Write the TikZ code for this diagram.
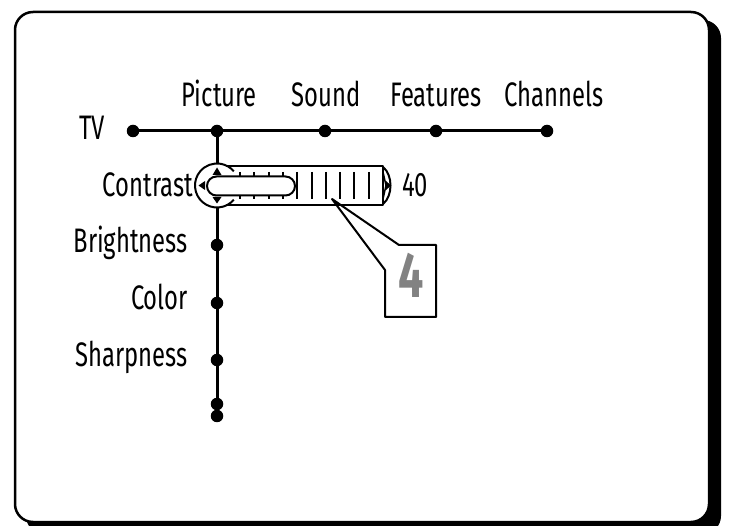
\documentclass[tikz,border=0pt]{standalone}
\usepackage{fontspec}
\setmainfont[FakeStretch=0.7]{Fira Sans}
\definecolor{numgray}{RGB}{130,130,130}
\tikzset{
  dot/.style={circle,fill=black,inner sep=0pt,minimum size=12.5pt},
  lbl/.style={font=\fontsize{34}{36}\selectfont,inner sep=0pt},
}
\begin{document}
\begin{tikzpicture}[x=1pt,y=-1pt,line join=round]
\useasboundingbox (0,0) rectangle (731,526);
\clip (0,0) rectangle (731,526);
% screen frame and its shadow
\fill[rounded corners=18pt] (26,20) rectangle (721,534);
\draw[line width=2.5pt,fill=white,rounded corners=18pt] (15,12) rectangle (709,522);
% menu tree
\node[dot] (tv) at (133,131) {};
\node[dot] (picture) at (217,131) {};
\node[dot] (sound) at (325,131) {};
\node[dot] (features) at (436,131) {};
\node[dot] (channels) at (547,131) {};
\node[dot] (brightness) at (217,245) {};
\node[dot] (color) at (217,303) {};
\node[dot] (sharpness) at (217,360) {};
\node[dot] (more) at (217,404) {};
\node[dot] (last) at (217,416) {};
\draw[line width=3pt] (tv.center) -- (channels.center);
\draw[line width=3pt] (picture.center) -- (last.center);
\node[lbl,anchor=base east] (tvlbl) at (105,140) {TV};
\node[lbl,anchor=base] (piclbl) at (219,107) {Picture};
\node[lbl,anchor=base] (soundlbl) at (326,107) {Sound};
\node[lbl,anchor=base] (featlbl) at (436,107) {Features};
\node[lbl,anchor=base] (chanlbl) at (554,107) {Channels};
\node[lbl,anchor=base east] (contlbl) at (193,197) {Contrast};
\node[lbl,anchor=base east] (brightlbl) at (188,253) {Brightness};
\node[lbl,anchor=base east] (colorlbl) at (188,310) {Color};
\node[lbl,anchor=base east] (sharplbl) at (188,367) {Sharpness};
% contrast slider
\fill[white] (217,185.5) circle (22);
\draw[line width=2pt] (217,185.5) ++(40:22) arc (40:320:22);
\draw[line width=2pt] (226,166) -- (383,166) -- (383,205) -- (226,205);
\foreach \x in {0,...,9}
	\draw[line width=2pt] ({240+14.3*\x},172) -- ({240+14.3*\x},199);
\draw[line width=2pt,fill=white,rounded corners=9.5pt] (207,176.5) rectangle (295,195.5);
\fill (212.5,175) -- (221.5,175) -- (217,167.5) -- cycle;
\fill (205,181) -- (205,190) -- (198.5,185.5) -- cycle;
\fill (212.5,197) -- (221.5,197) -- (217,203.5) -- cycle;
\draw[line width=2pt] (383,167) .. controls (393,175) and (393,196) .. (383,204);
\draw[line width=1.5pt] (383,172) -- (386,185.5) -- (383,199);
\fill (386,181) -- (386,190) -- (391,185.5) -- cycle;
\node[lbl,anchor=base west] (value) at (402,197) {40};
% callout
\coordinate (tip) at (332,199);
\draw[line width=2pt] (tip) -- (399,245) -- (436,245) -- (436,317) -- (385,317) -- (385,270) -- cycle;
\node[font=\bfseries\fontsize{64}{64}\selectfont,text=numgray,inner sep=0pt,anchor=base] (num) at (411,298) {4};
\end{tikzpicture}
\end{document}
